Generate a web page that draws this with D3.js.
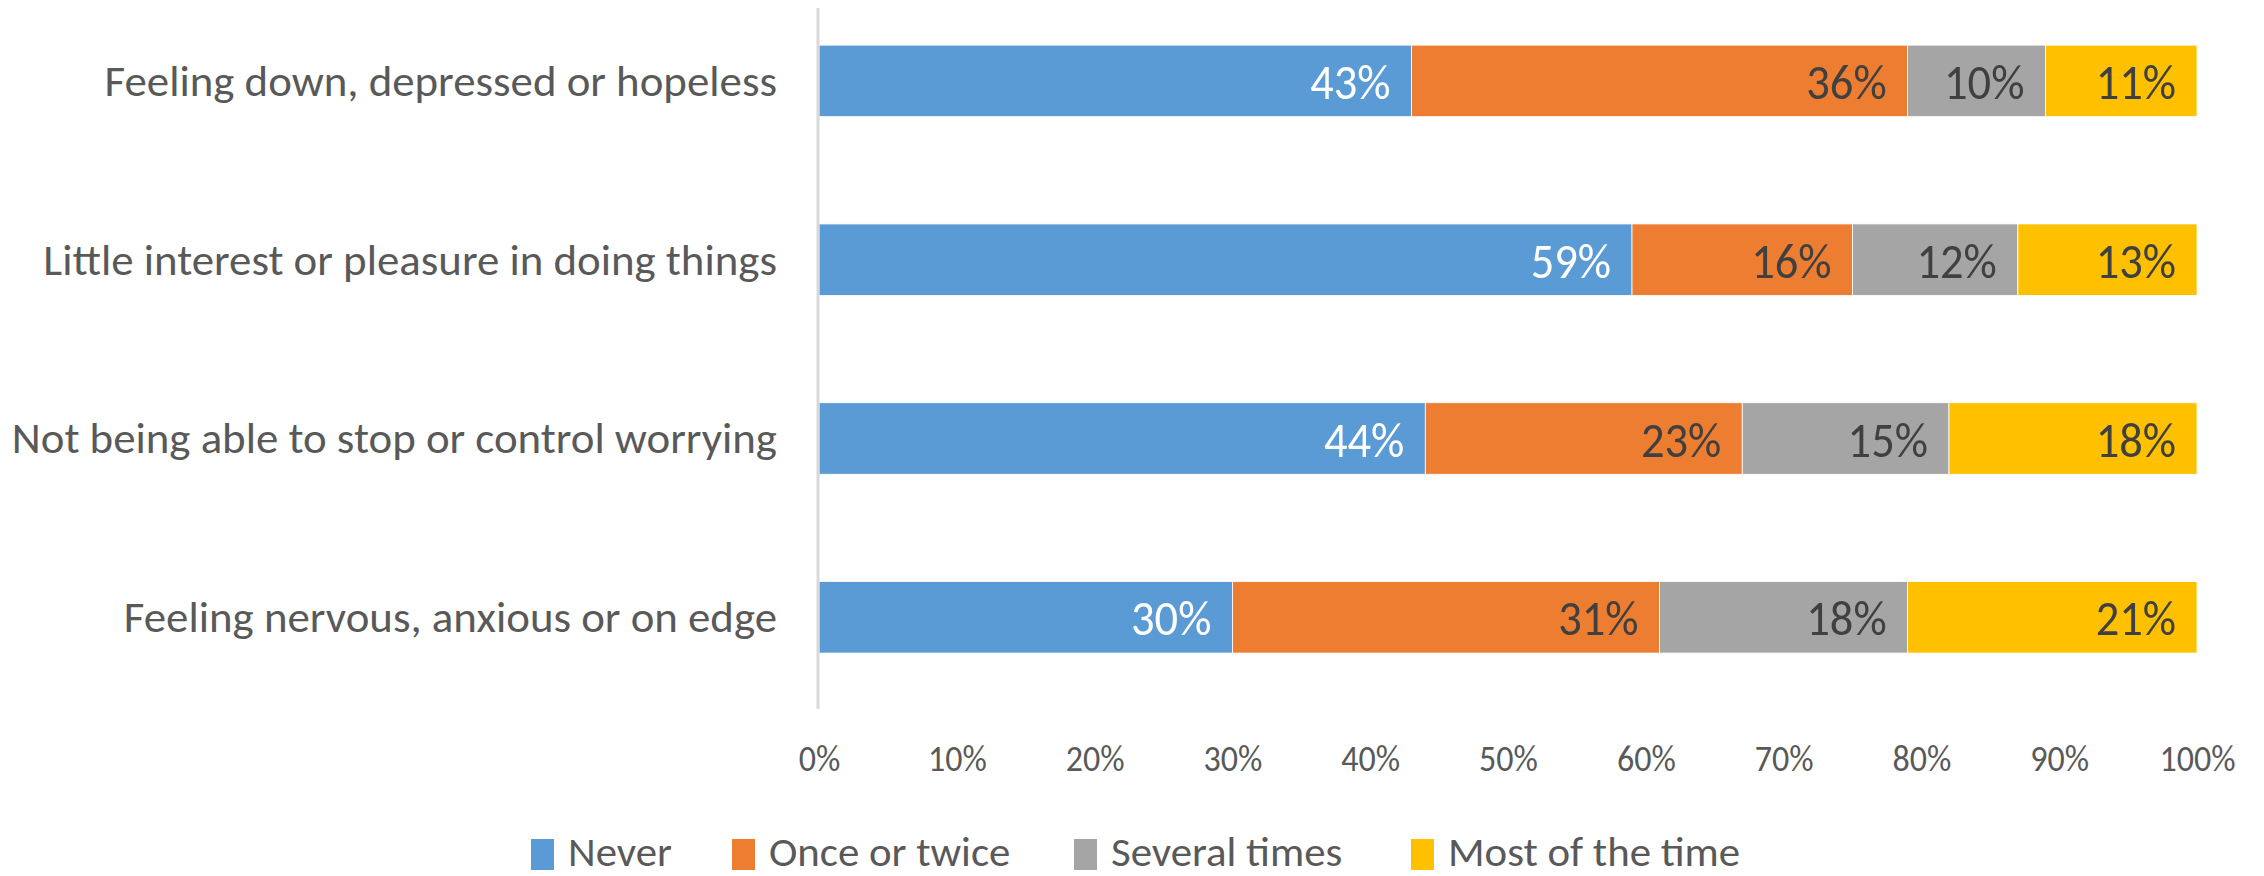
<!DOCTYPE html>
<html><head><meta charset="utf-8">
<script src="https://cdn.jsdelivr.net/npm/d3@7"></script>
<style>html,body{margin:0;padding:0;background:#fff;}svg{display:block;}</style>
</head><body>
<svg id="chart" width="2264" height="876"></svg>
<script>
const categories = [
  "Feeling down, depressed or hopeless",
  "Little interest or pleasure in doing things",
  "Not being able to stop or control worrying",
  "Feeling nervous, anxious or on edge"
];
const seriesNames = ["Never", "Once or twice", "Several times", "Most of the time"];
const never = [43, 59, 44, 30];
const onceOrTwice = [36, 16, 23, 31];
const severalTimes = [10, 12, 15, 18];
const mostOfTheTime = [11, 13, 18, 21];
const tickValues = [0, 10, 20, 30, 40, 50, 60, 70, 80, 90, 100];
const tickLabels = ["0%", "10%", "20%", "30%", "40%", "50%", "60%", "70%", "80%", "90%", "100%"];
const colors = ["#5B9BD5", "#ED7D31", "#A5A5A5", "#FFC000"];
const labelColors = ["#FFFFFF", "#404040", "#404040", "#404040"];

const FONT = "Carlito, Lato, 'Open Sans', sans-serif";
const svg = d3.select("#chart");

const seriesValues = [never, onceOrTwice, severalTimes, mostOfTheTime];
const rows = categories.map((c, i) => {
  const r = {cat: c};
  seriesNames.forEach((s, j) => r[s] = seriesValues[j][i]);
  return r;
});
const stacked = d3.stack().keys(seriesNames)(rows);

const x = d3.scaleLinear().domain([0, 100]).range([819, 2197]);
const y = d3.scaleBand().domain(categories).range([-8.5, 706.7]).paddingInner(0.6).paddingOuter(0.3);
const color = d3.scaleOrdinal().domain(seriesNames).range(colors);

function txt(g, xp, yp, s, size, fill, anchor, sx) {
  return g.append("g").attr("transform", `translate(${xp},${yp}) scale(${sx},1)`)
    .append("text").attr("x", 0).attr("y", 0)
    .attr("font-family", FONT).attr("font-size", size).attr("fill", fill)
    .attr("text-anchor", anchor).attr("dominant-baseline", "central").text(s);
}

// bars
const layers = svg.append("g").selectAll("g").data(stacked).join("g")
  .attr("fill", d => color(d.key));
layers.selectAll("rect").data(d => d).join("rect")
  .attr("x", d => x(d[0]))
  .attr("width", d => x(d[1]) - x(d[0]))
  .attr("y", d => y(d.data.cat))
  .attr("height", y.bandwidth())
  .attr("stroke", "#fff").attr("stroke-width", 0.8);

// data labels
const lab = svg.append("g");
stacked.forEach((layer, j) => {
  layer.forEach(d => {
    txt(lab, x(d[1]) - 21, y(d.data.cat) + y.bandwidth() / 2 + 1,
      (d[1] - d[0]) + "%", 50, labelColors[j], "end", 0.93);
  });
});

// vertical axis line
svg.append("line").attr("x1", 818).attr("x2", 818).attr("y1", 8).attr("y2", 709)
  .attr("stroke", "#D9D9D9").attr("stroke-width", 3);

// category labels
const cg = svg.append("g");
categories.forEach(c => {
  txt(cg, 777, y(c) + y.bandwidth() / 2, c, 44, "#595959", "end", 1.02);
});

// x axis tick labels
const xAxis = d3.axisBottom(x).tickValues(tickValues)
  .tickFormat((d, i) => tickLabels[i]).tickSize(0).tickPadding(0);
const ax = svg.append("g").attr("transform", "translate(0,743)").call(xAxis);
ax.select(".domain").remove();
ax.selectAll("text").attr("font-family", FONT).attr("font-size", 37).attr("fill", "#595959")
  .attr("dy", null).attr("y", 0).attr("dominant-baseline", "hanging")
  .attr("transform", "scale(0.92,1)");

// legend
const legendX = [531, 732, 1074, 1411];
const lg = svg.append("g");
seriesNames.forEach((s, i) => {
  lg.append("rect").attr("x", legendX[i]).attr("y", 839).attr("width", 23).attr("height", 31)
    .attr("fill", colors[i]);
  txt(lg, legendX[i] + 37, 852, s, 42, "#595959", "start", 1.02);
});
</script>
</body></html>
